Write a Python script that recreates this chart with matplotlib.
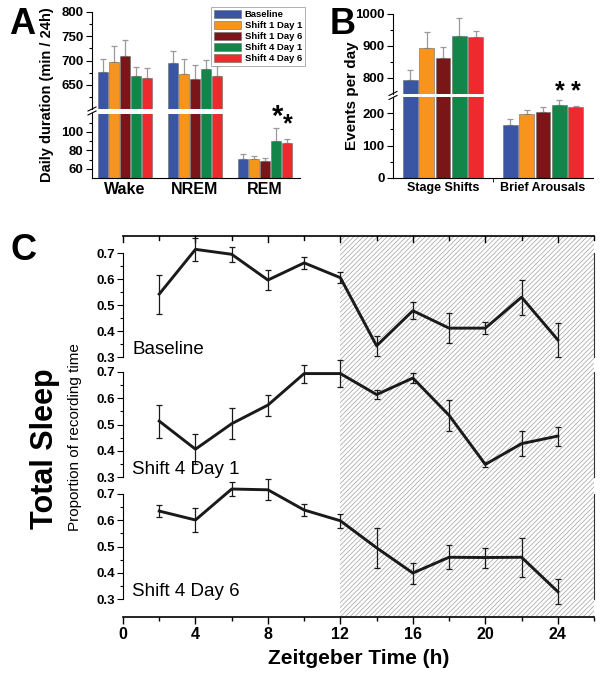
import matplotlib
matplotlib.use("Agg")
import matplotlib.pyplot as plt
import numpy as np
from matplotlib.lines import Line2D

plt.rcParams['font.family'] = ['Liberation Sans', 'DejaVu Sans']
plt.rcParams['hatch.linewidth'] = 0.5
plt.rcParams['hatch.color'] = '#a0a0a0'

# ---------------- data ----------------
series = ['Baseline', 'Shift 1 Day 1', 'Shift 1 Day 6', 'Shift 4 Day 1', 'Shift 4 Day 6']
colors = ['#3a55a4', '#f7941d', '#7a1618', '#128548', '#ee2a2f']

groups_A = ['Wake', 'NREM', 'REM']
baseline_A = [676, 694, 70.4]
s1d1_A = [697, 672, 70.4]
s1d6_A = [710, 661, 68.2]
s4d1_A = [668, 682, 90.0]
s4d6_A = [663, 668, 87.8]
baseline_A_err = [27, 26, 5.3]
s1d1_A_err = [33, 31, 3.6]
s1d6_A_err = [32, 30, 3.2]
s4d1_A_err = [18, 19, 14]
s4d6_A_err = [22, 21, 4]

groups_B = ['Stage Shifts', 'Brief Arousals']
baseline_B = [794, 165]
s1d1_B = [893, 198]
s1d6_B = [862, 204]
s4d1_B = [932, 225]
s4d6_B = [929, 218]
baseline_B_err = [31, 17]
s1d1_B_err = [50, 11]
s1d6_B_err = [34, 14]
s4d1_B_err = [54, 15]
s4d6_B_err = [18, 5]

zt = [2, 4, 6, 8, 10, 12, 14, 16, 18, 20, 22, 24]
baseline_C = [0.542, 0.714, 0.695, 0.596, 0.662, 0.605, 0.343, 0.478, 0.411, 0.411, 0.530, 0.366]
baseline_C_err = [0.075, 0.045, 0.030, 0.038, 0.024, 0.021, 0.039, 0.033, 0.058, 0.023, 0.067, 0.065]
s4d1_C = [0.513, 0.406, 0.503, 0.574, 0.694, 0.694, 0.614, 0.677, 0.535, 0.348, 0.427, 0.456]
s4d1_C_err = [0.063, 0.056, 0.060, 0.040, 0.034, 0.050, 0.018, 0.018, 0.058, 0.010, 0.047, 0.036]
s4d6_C = [0.635, 0.601, 0.719, 0.716, 0.639, 0.598, 0.495, 0.399, 0.459, 0.458, 0.459, 0.328]
s4d6_C_err = [0.022, 0.046, 0.028, 0.040, 0.022, 0.026, 0.075, 0.040, 0.045, 0.038, 0.075, 0.047]
panel_C_names = ['Baseline', 'Shift 4 Day 1', 'Shift 4 Day 6']

W, H = 603, 678
fig = plt.figure(figsize=(W / 100, H / 100), dpi=100)


def px(l, t, r, b):
    return [l / W, 1 - b / H, (r - l) / W, (b - t) / H]


def fx(x):
    return x / W


def fy(y):
    return 1 - y / H


def style_bar_axes(ax, fs=9.5):
    for s in ['top', 'right']:
        ax.spines[s].set_visible(False)
    ax.tick_params(axis='y', which='major', direction='out', length=4, width=0.8, labelsize=fs, pad=2)
    ax.tick_params(axis='y', which='minor', direction='out', length=2.5, width=0.8)
    for lab in ax.get_yticklabels():
        lab.set_fontweight('bold')


def draw_bars(ax, means, errs, ngroups, width):
    x = np.arange(ngroups)
    n = len(means)
    for i, (m, e, c) in enumerate(zip(means, errs, colors)):
        xs = x + (i - (n - 1) / 2) * width
        ax.bar(xs, m, width=width * 0.92, color=c, edgecolor='#6b6b6b', linewidth=0.4,
               label=series[i], zorder=2)
        ax.errorbar(xs, m, yerr=[np.zeros(len(e)), e], fmt='none', ecolor='#9a9a9a',
                    elinewidth=0.9, capsize=2.5, capthick=0.9, zorder=1)


# ---------------- Panel A ----------------
wA = 0.155
A_means = [baseline_A, s1d1_A, s1d6_A, s4d1_A, s4d6_A]
A_errs = [baseline_A_err, s1d1_A_err, s1d6_A_err, s4d1_A_err, s4d6_A_err]
axAu = fig.add_axes(px(92, 12, 300, 109))
axAl = fig.add_axes(px(92, 113.5, 300, 178))
for ax in (axAu, axAl):
    draw_bars(ax, A_means, A_errs, 3, wA)
    ax.set_xlim(-0.47, 2.5)
axAu.set_ylim(600, 800)
axAu.set_yticks([650, 700, 750, 800])
axAu.set_yticks([625, 675, 725, 775], minor=True)
axAu.spines['bottom'].set_visible(False)
axAu.set_xticks([])
axAl.set_ylim(50, 120)
axAl.set_yticks([60, 80, 100])
axAl.set_yticks([70, 90, 110], minor=True)
axAl.spines['top'].set_visible(False)
axAl.set_xticks(range(3))
axAl.set_xticklabels(groups_A, fontsize=11.5, fontweight='bold')
axAl.tick_params(axis='x', length=0, pad=3)
style_bar_axes(axAu)
style_bar_axes(axAl)
# significance stars
axAl.text(2 + 1 * wA + 0.02, 116, '*', fontsize=21, fontweight='bold', ha='center', va='center', clip_on=False)
axAl.text(2 + 2 * wA + 0.02, 108, '*', fontsize=18, fontweight='bold', ha='center', va='center', clip_on=False)

fig.text(fx(47), fy(95), 'Daily duration (min / 24h)', rotation=90, fontsize=10.5,
         fontweight='bold', ha='center', va='center')
fig.text(fx(22), fy(24), 'A', fontsize=26, fontweight='bold', ha='center', va='center')
handles, labels = axAu.get_legend_handles_labels()
leg = fig.legend(handles[:5], labels[:5], loc='upper right', bbox_to_anchor=(fx(305), fy(7)),
                 prop={'size': 6.8, 'weight': 'bold'}, frameon=True, fancybox=False,
                 edgecolor='#9a9a9a', handlelength=2.9, handleheight=0.9, labelspacing=0.2,
                 borderpad=0.3, handletextpad=0.4, borderaxespad=0)
leg.get_frame().set_linewidth(0.7)

# ---------------- Panel B ----------------
wB = 0.163
B_means = [baseline_B, s1d1_B, s1d6_B, s4d1_B, s4d6_B]
B_errs = [baseline_B_err, s1d1_B_err, s1d6_B_err, s4d1_B_err, s4d6_B_err]
axBu = fig.add_axes(px(393, 14, 593, 94))
axBl = fig.add_axes(px(393, 97, 593, 178))
for ax in (axBu, axBl):
    draw_bars(ax, B_means, B_errs, 2, wB)
    ax.set_xlim(-0.5, 1.5)
axBu.set_ylim(750, 1000)
axBu.set_yticks([800, 900, 1000])
axBu.set_yticks([850, 950], minor=True)
axBu.spines['bottom'].set_visible(False)
axBu.set_xticks([])
axBl.set_ylim(0, 250)
axBl.set_yticks([0, 100, 200])
axBl.set_yticks([50, 150], minor=True)
axBl.spines['top'].set_visible(False)
axBl.set_xticks(range(2))
axBl.set_xticklabels(groups_B, fontsize=9, fontweight='bold')
axBl.set_xticks([0.5], minor=True)
axBl.tick_params(axis='x', which='major', length=0, pad=3)
axBl.tick_params(axis='x', which='minor', length=3, direction='out')
style_bar_axes(axBu)
style_bar_axes(axBl)
axBl.text(1 + 1 * wB, 268, '*', fontsize=18, fontweight='bold', ha='center', va='center', clip_on=False)
axBl.text(1 + 2 * wB, 268, '*', fontsize=18, fontweight='bold', ha='center', va='center', clip_on=False)
fig.text(fx(352), fy(96), 'Events per day', rotation=90, fontsize=11, fontweight='bold',
         ha='center', va='center')
fig.text(fx(343), fy(24), 'B', fontsize=26, fontweight='bold', ha='center', va='center')

# axis break marks
for (xb, yb) in [(92, 111), (393, 95.5)]:
    for dy in (-2.0, 2.0):
        fig.add_artist(Line2D([fx(xb - 4), fx(xb + 4)], [fy(yb + dy + 2), fy(yb + dy - 2)],
                              color='black', lw=0.8))

# ---------------- Panel C ----------------
axbg = fig.add_axes(px(123, 236, 594, 617))
axbg.set_xlim(0, 26)
axbg.set_ylim(0, 1)
axbg.axvspan(12, 26, facecolor='none', hatch='///////', edgecolor='#a0a0a0', linewidth=0)
for s in ['left', 'right']:
    axbg.spines[s].set_visible(False)
axbg.set_yticks([])
axbg.set_xticks(range(0, 25, 4))
axbg.set_xticks(range(2, 27, 2), minor=True)
axbg.tick_params(axis='x', which='major', direction='out', length=5, width=1, labelsize=11.5, pad=2)
axbg.tick_params(axis='x', which='minor', direction='out', length=3, width=1)
for lab in axbg.get_xticklabels():
    lab.set_fontweight('bold')
# top axis ticks pointing inward
for t in range(0, 27, 2):
    ln = 6 if t % 4 == 0 else 4
    axbg.plot([t, t], [1, 1 - ln / 381], color='black', lw=1, clip_on=False, zorder=3)
axbg.spines['top'].set_linewidth(1.2)
axbg.spines['bottom'].set_linewidth(1.2)
axbg.set_xlabel('Zeitgeber Time (h)', fontsize=15, fontweight='bold', labelpad=5)

C_data = [(baseline_C, baseline_C_err), (s4d1_C, s4d1_C_err), (s4d6_C, s4d6_C_err)]
C_pos = [(253, 357), (372, 477), (494, 599)]
for (vals, errs), (t, b), name in zip(C_data, C_pos, panel_C_names):
    ax = fig.add_axes(px(123, t, 594, b))
    ax.patch.set_visible(False)
    ax.set_xlim(0, 26)
    ax.set_ylim(0.3, 0.7)
    ax.errorbar(zt, vals, yerr=errs, color='#1a1a1a', lw=2.1, ecolor='#1a1a1a', elinewidth=0.9,
                capsize=2.5, capthick=0.9, clip_on=False)
    for s in ['top', 'bottom']:
        ax.spines[s].set_visible(False)
    ax.spines['left'].set_bounds(0.3, 0.7)
    ax.spines['right'].set_bounds(0.3, 0.7)
    ax.spines['right'].set_color('#333333')
    ax.set_xticks([])
    ax.set_yticks([0.3, 0.4, 0.5, 0.6, 0.7])
    ax.set_yticks([0.35, 0.45, 0.55, 0.65], minor=True)
    ax.tick_params(axis='y', which='major', direction='out', length=4, width=0.8, labelsize=9.5, pad=2)
    ax.tick_params(axis='y', which='minor', direction='out', length=2.5, width=0.8)
    ax.set_yticklabels(['0.3', '0.4', '0.5', '0.6', '0.7'], fontweight='bold')
    ax.text(0.5, 0.298, name, fontsize=13.5, ha='left', va='bottom')

fig.text(fx(23), fy(250), 'C', fontsize=26, fontweight='bold', ha='center', va='center')
fig.text(fx(45), fy(449), 'Total Sleep', rotation=90, fontsize=22, fontweight='bold',
         ha='center', va='center')
fig.text(fx(75), fy(437), 'Proportion of recording time', rotation=90, fontsize=11,
         ha='center', va='center')

fig.savefig('out.png', dpi=100)
